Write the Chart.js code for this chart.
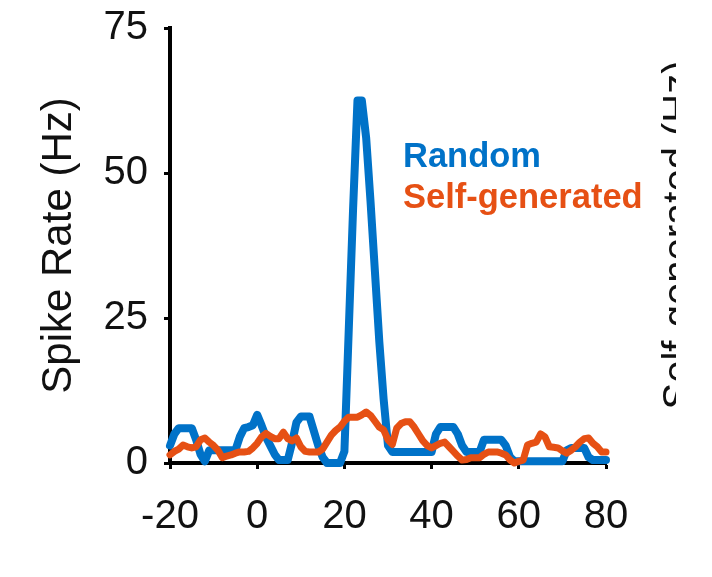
<!DOCTYPE html>
<html>
<head>
<meta charset="utf-8">
<script src="https://cdn.jsdelivr.net/npm/chart.js@4/dist/chart.umd.min.js"></script>
<style>
  html, body { margin: 0; padding: 0; background: #fff; }
  #wrap { width: 712px; height: 577px; }
</style>
</head>
<body>
<div id="wrap"><canvas id="rateChart"></canvas></div>
<script>
// time bins (ms), one per step from -20 to 80
const times = [];
for (let t = -20; t <= 80; t++) times.push(t);

// spike rate (Hz) for each bin
const randomRate = [
  3, 5, 6, 6, 6, 6, 4, 1.5, 0.3, 2.2,          // -20 .. -11
  2.2, 2.2, 2.2, 2.2, 2.2, 2.2, 4.5, 6, 6.2, 6.5, // -10 .. -1
  8.3, 6.5, 4.5, 3, 1.5, 0.5, 0.5, 0.5, 3.5, 7,   // 0 .. 9
  8, 8, 8, 5.5, 3, 1, 0, 0, 0, 0,                 // 10 .. 19
  2, 23, 44, 62.5, 62.5, 56, 45, 33, 21, 11,      // 20 .. 29
  3, 1.9, 1.9, 1.9, 1.9, 1.9, 1.9, 1.9, 1.9, 1.9, // 30 .. 39
  1.9, 5, 6.2, 6.2, 6.2, 6.2, 5, 3, 1.9, 1.9,     // 40 .. 49
  1.9, 1.9, 4, 4, 4, 4, 4, 3, 1, 0.3,             // 50 .. 59
  0.3, 0.3, 0.3, 0.3, 0.3, 0.3, 0.3, 0.3, 0.3, 0.3, // 60 .. 69
  0.3, 2.2, 2.6, 2.6, 2.6, 2.6, 1, 0.5, 0.5, 0.5, // 70 .. 79
  0.5                                             // 80
];
const selfRate = [
  1.4, 2, 2.4, 3.1, 2.8, 2.6, 2.8, 4, 4.3, 3.6,   // -20 .. -11
  3, 2.2, 0.9, 1.2, 1.4, 1.7, 1.9, 1.9, 2, 2.6,   // -10 .. -1
  3.4, 4.5, 5.1, 4.6, 4.2, 4.2, 5.3, 4.2, 3.8, 4.3, // 0 .. 9
  2.8, 2, 1.9, 1.9, 1.9, 2.4, 3.6, 4.8, 5.6, 6.2, // 10 .. 19
  7.2, 7.9, 7.9, 7.9, 8.3, 8.8, 8.2, 7.2, 6.2, 5.7, // 20 .. 29
  4, 3.2, 6, 6.8, 7.1, 7.1, 6.2, 5, 3.8, 3,       // 30 .. 39
  2.6, 3, 3.4, 3.6, 2.8, 2, 1.2, 0.5, 0.6, 0.9,   // 40 .. 49
  0.9, 0.9, 1.5, 1.9, 1.9, 1.9, 1.7, 1.4, 0.5, 0,  // 50 .. 59
  0.3, 0.5, 3.1, 3.4, 3.6, 5, 4.5, 2.8, 2.7, 2.6, // 60 .. 69
  2.1, 1.7, 2.2, 2.8, 3.6, 4.2, 4.3, 3.4, 2.8, 1.9, // 70 .. 79
  1.9                                             // 80
];

const xTicks = [-20, 0, 20, 40, 60, 80];
const yTicks = [0, 25, 50, 75];

const FONT = '"Liberation Sans", Arial, Helvetica, sans-serif';
const BLUE = 'rgb(0, 114, 200)';
const ORANGE = 'rgb(230, 80, 20)';

const toPoints = (vals) => vals.map((v, i) => ({ x: times[i], y: v }));

// colored series names and the clipped label of the next panel
const textPlugin = {
  id: 'panelText',
  afterDraw(chart) {
    const ctx = chart.ctx;
    ctx.save();
    ctx.font = 'bold 34.5px ' + FONT;
    ctx.textAlign = 'left';
    ctx.textBaseline = 'alphabetic';
    ctx.fillStyle = BLUE;
    ctx.fillText('Random', 403, 167);
    ctx.fillStyle = ORANGE;
    ctx.fillText('Self-generated', 403, 208);
    ctx.restore();

    ctx.save();
    ctx.beginPath();
    ctx.rect(0, 0, 676, 577);
    ctx.clip();
    ctx.translate(691, 235);
    ctx.rotate(-Math.PI / 2);
    ctx.font = '40px ' + FONT;
    ctx.fillStyle = '#111';
    ctx.textAlign = 'center';
    ctx.textBaseline = 'alphabetic';
    ctx.fillText('Self-generated (Hz)', 0, 0);
    ctx.restore();
  }
};

new Chart(document.getElementById('rateChart'), {
  type: 'line',
  data: {
    datasets: [
      {
        label: 'Self-generated',
        data: toPoints(selfRate),
        borderColor: ORANGE,
        borderWidth: 7,
        order: 0,
      },
      {
        label: 'Random',
        data: toPoints(randomRate),
        borderColor: BLUE,
        borderWidth: 8,
        order: 1,
      },
    ],
  },
  options: {
    responsive: true,
    maintainAspectRatio: false,
    animation: false,
    devicePixelRatio: 1,
    layout: { padding: { top: 28, right: 106, left: 0, bottom: 0 } },
    elements: {
      point: { radius: 0 },
      line: { tension: 0, fill: false, borderJoinStyle: 'round', borderCapStyle: 'round' },
    },
    datasets: { line: { clip: false } },
    plugins: {
      legend: { display: false },
      tooltip: { enabled: false },
    },
    scales: {
      x: {
        type: 'linear',
        min: -20,
        max: 80,
        afterBuildTicks: (s) => { s.ticks = xTicks.map((v) => ({ value: v })); },
        afterFit: (s) => { s.height = 114; s.paddingLeft = 0; s.paddingRight = 0; },
        border: { display: true, color: '#000', width: 4 },
        grid: { drawOnChartArea: false, drawTicks: true, tickLength: 6, tickWidth: 3, tickColor: '#000' },
        ticks: { color: '#111', padding: 24, font: { family: FONT, size: 40 } },
      },
      y: {
        min: 0,
        max: 75,
        afterBuildTicks: (s) => { s.ticks = yTicks.map((v) => ({ value: v })); },
        afterFit: (s) => { s.width = 170; s.paddingTop = 0; s.paddingBottom = 0; },
        border: { display: true, color: '#000', width: 4 },
        grid: { drawOnChartArea: false, drawTicks: true, tickLength: 6, tickWidth: 3, tickColor: '#000' },
        ticks: { color: '#111', padding: 16, font: { family: FONT, size: 40 } },
        title: {
          display: true,
          text: 'Spike Rate (Hz)',
          color: '#111',
          font: { family: FONT, size: 42 },
          padding: { top: 34, bottom: 0 },
        },
      },
    },
  },
  plugins: [textPlugin],
});
</script>
</body>
</html>
